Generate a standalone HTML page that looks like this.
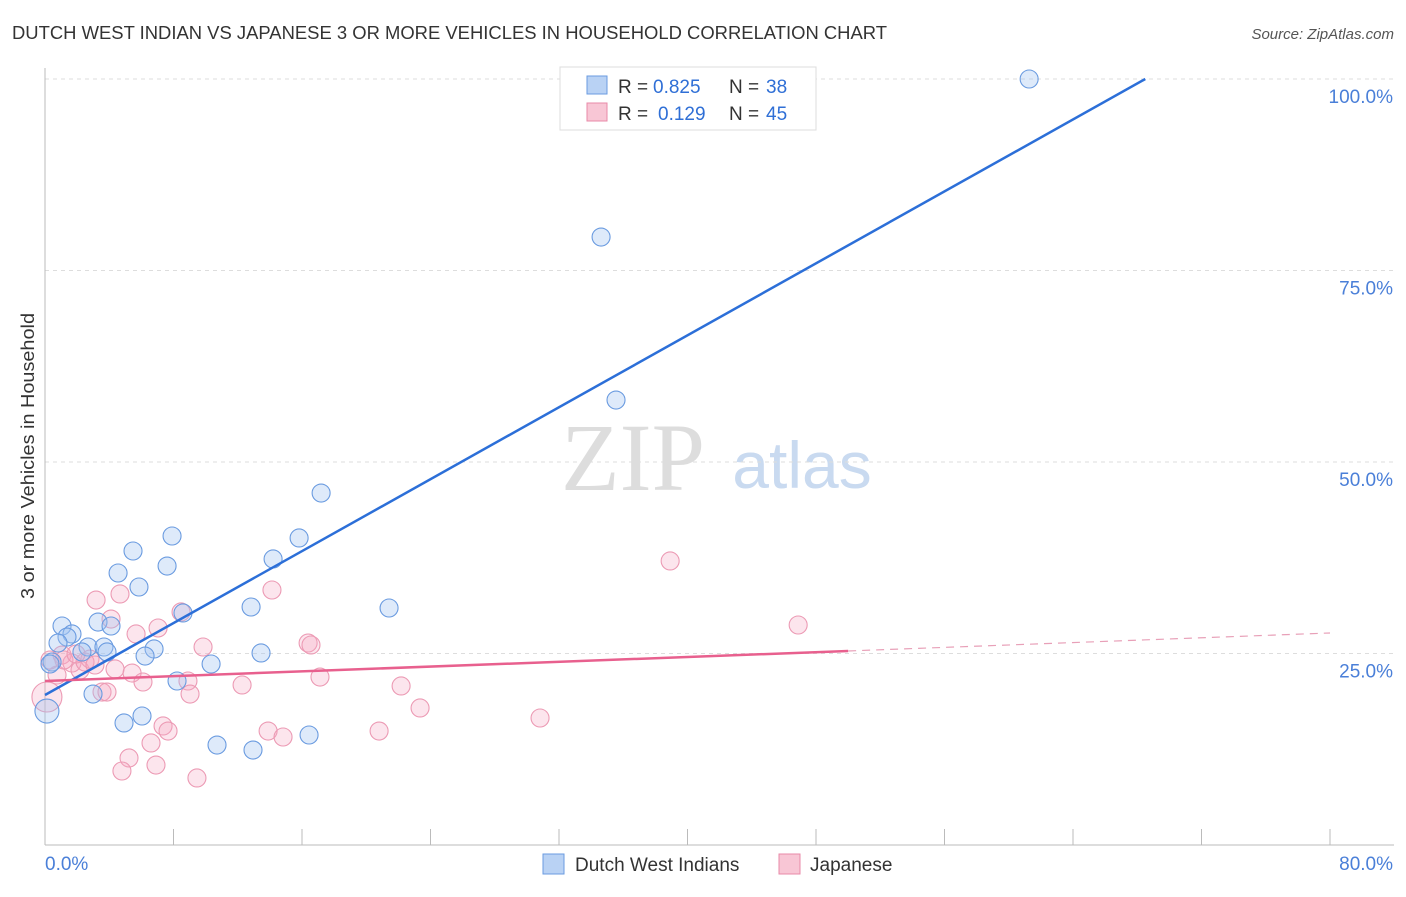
<!DOCTYPE html>
<html><head><meta charset="utf-8"><style>
body{margin:0;background:#fff;font-family:"Liberation Sans",sans-serif}
</style></head><body>
<svg id="chart" width="1406" height="892" xmlns="http://www.w3.org/2000/svg" font-family="Liberation Sans, sans-serif">
<text x="12" y="39" font-size="18" fill="#333" textLength="875" lengthAdjust="spacingAndGlyphs">DUTCH WEST INDIAN VS JAPANESE 3 OR MORE VEHICLES IN HOUSEHOLD CORRELATION CHART</text>
<text x="1394" y="39" font-size="15" fill="#555" font-style="italic" text-anchor="end">Source: ZipAtlas.com</text>
<text transform="translate(34,456) rotate(-90)" font-size="18" fill="#333" text-anchor="middle" textLength="286" lengthAdjust="spacingAndGlyphs">3 or more Vehicles in Household</text>
<g>
<text x="633" y="490" font-size="96" font-family="Liberation Serif, serif" fill="#ddd" text-anchor="middle">ZIP</text>
<text x="802" y="488" font-size="66" fill="#c9daf0" text-anchor="middle">atlas</text>
</g>
<g id="grid"></g><g id="axes"></g><g id="pts"></g><g id="lines"></g>
<g>
<rect x="560" y="67" width="256" height="63" fill="#fff" stroke="#ddd"/>
<rect x="587" y="76" width="20" height="18" fill="#b9d2f4" stroke="#6a9be0"/>
<text x="618" y="93" font-size="19" fill="#333">R =</text>
<text x="653" y="93" font-size="19" fill="#2f6fd6">0.825</text>
<text x="729" y="93" font-size="19" fill="#333">N =</text>
<text x="766" y="93" font-size="19" fill="#2f6fd6">38</text>
<rect x="587" y="103" width="20" height="18" fill="#f8c6d5" stroke="#e88aa8"/>
<text x="618" y="120" font-size="19" fill="#333">R =</text>
<text x="658" y="120" font-size="19" fill="#2f6fd6">0.129</text>
<text x="729" y="120" font-size="19" fill="#333">N =</text>
<text x="766" y="120" font-size="19" fill="#2f6fd6">45</text>
</g>
<g>
<rect x="543" y="854" width="21" height="20" fill="#b9d2f4" stroke="#6a9be0"/>
<text x="575" y="871" font-size="19" fill="#333">Dutch West Indians</text>
<rect x="779" y="854" width="21" height="20" fill="#f8c6d5" stroke="#e88aa8"/>
<text x="810" y="871" font-size="19" fill="#333">Japanese</text>
</g>
</svg>
<script>
const blueX=[61.27,34.62,35.55,17.19,7.91,5.48,15.82,14.20,7.60,4.55,5.85,8.59,12.83,21.42,1.06,3.30,4.11,1.68,1.37,0.81,2.68,3.67,2.30,3.86,6.79,6.23,13.45,10.34,0.44,8.22,2.99,6.04,4.92,10.71,12.95,16.44,0.12,0.31];
const blueY=[100.0,79.37,58.09,45.95,40.34,38.38,40.08,37.34,36.42,35.51,33.68,30.29,31.07,30.94,28.59,29.11,28.59,27.55,27.15,26.37,25.85,25.85,25.20,25.20,25.59,24.67,25.07,23.63,23.89,21.41,19.71,16.84,15.93,13.05,12.40,14.36,17.49,23.63];
const pinkX=[0.12,3.18,4.67,5.67,7.04,8.47,4.11,9.84,14.13,16.38,16.56,17.12,22.17,23.35,20.80,30.82,38.92,46.89,1.06,0.75,1.68,2.18,2.80,3.55,4.36,5.42,6.10,8.90,9.03,12.27,7.35,7.66,6.60,5.23,6.91,4.79,9.46,13.89,14.82,3.86,1.18,2.49,3.11,0.31,1.93];
const pinkY=[19.32,31.98,32.77,27.55,28.33,30.42,29.50,25.85,33.29,26.37,26.11,21.93,20.76,17.89,14.88,16.58,37.08,28.72,24.80,22.19,23.76,22.85,24.28,19.97,22.98,22.45,21.28,21.41,19.71,20.89,15.54,14.88,13.32,11.36,10.44,9.66,8.75,14.88,14.10,19.97,24.15,23.89,23.50,24.15,24.93];
const yTicks=[25,50,75,100];
const yTickLabels=["25.0%","50.0%","75.0%","100.0%"];
const xTicks=[0,8,16,24,32,40,48,56,64,72,80];
const blueTrend=[0,19.58,68.5,100];
const pinkTrend=[0,21.41,50,25.33,80,27.68];
const NS="http://www.w3.org/2000/svg";
const sx=v=>45+v*16.0625, sy=v=>845-v*7.66;
function mk(p,t,a){const e=document.createElementNS(NS,t);for(const k in a)e.setAttribute(k,a[k]);document.getElementById(p).appendChild(e);return e;}
yTicks.forEach((t,i)=>{
 const g=mk('grid','line',{x1:45,x2:1394,y1:sy(t),y2:sy(t),stroke:'#ddd','stroke-dasharray':'4,4'});
 
 
 const l=mk('axes','text',{x:1393,y:sy(t)+24,'font-size':19,fill:'#4a7fd8','text-anchor':'end'});l.textContent=yTickLabels[i];
 
 
});
mk('axes','line',{x1:45,x2:45,y1:68,y2:845,stroke:'#bbb'});
mk('axes','line',{x1:45,x2:1394,y1:845,y2:845,stroke:'#bbb'});
xTicks.forEach(t=>{const e=mk('axes','line',{x1:sx(t),x2:sx(t),y1:829,y2:845,stroke:'#bbb'});
 
 });
const a0=mk('axes','text',{x:45,y:870,'font-size':19,fill:'#4a7fd8'});a0.textContent='0.0%';


const a1=mk('axes','text',{x:1393,y:870,'font-size':19,fill:'#4a7fd8','text-anchor':'end'});a1.textContent='80.0%';


pinkX.forEach((x,i)=>{const c=mk('pts','circle',{cx:sx(x),cy:sy(pinkY[i]),r:i==0?15:9,fill:'rgba(244,170,195,0.3)',stroke:'#ec9ab4','stroke-width':1.1});
 
 });
blueX.forEach((x,i)=>{const c=mk('pts','circle',{cx:sx(x),cy:sy(blueY[i]),r:i==36?12:9,fill:'rgba(160,195,240,0.35)',stroke:'#6a9be0','stroke-width':1.1});
 
 });
const bl=mk('lines','line',{x1:sx(blueTrend[0]),y1:sy(blueTrend[1]),x2:sx(blueTrend[2]),y2:sy(blueTrend[3]),stroke:'#2c6fd8','stroke-width':2.5});


const pl=mk('lines','line',{x1:sx(pinkTrend[0]),y1:sy(pinkTrend[1]),x2:sx(pinkTrend[2]),y2:sy(pinkTrend[3]),stroke:'#e8608e','stroke-width':2.5});


const pd=mk('lines','line',{x1:sx(pinkTrend[2]),y1:sy(pinkTrend[3]),x2:sx(pinkTrend[4]),y2:sy(pinkTrend[5]),stroke:'#e8a0b8','stroke-width':1.2,'stroke-dasharray':'8,6'});


</script>
</body></html>
